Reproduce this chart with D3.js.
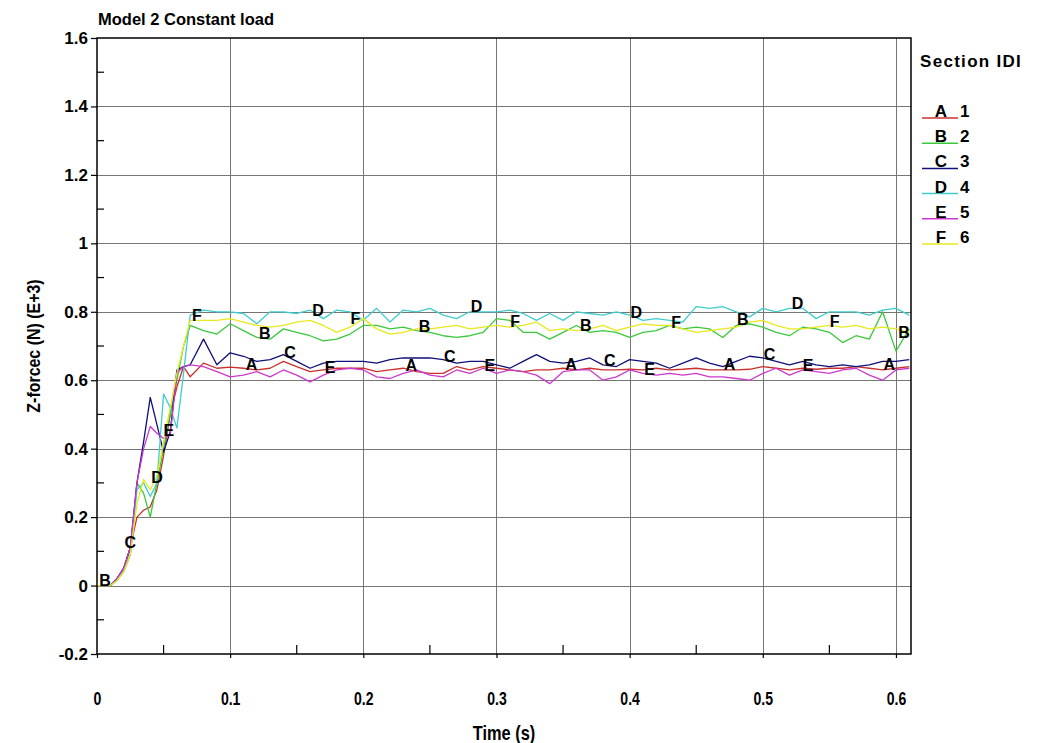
<!DOCTYPE html>
<html><head><meta charset="utf-8">
<script src="https://cdn.jsdelivr.net/npm/d3@7"></script>
<style>
body{margin:0;background:#fff;}
svg{display:block;}
text{font-family:"Liberation Sans",Arial,Helvetica,sans-serif;font-weight:bold;fill:#000;}
</style></head><body>
<svg id="chart" width="1042" height="743"></svg>
<script>
// ---------- DATA ----------
const time = [0,0.01,0.015,0.02,0.025,0.03,0.035,0.04,0.045,0.05,0.055,0.06,0.065,0.07,
  0.08,0.09,0.10,0.11,0.12,0.13,0.14,0.15,0.16,0.17,
  0.18,0.19,0.20,0.21,0.22,0.23,0.24,0.25,0.26,0.27,
  0.28,0.29,0.30,0.31,0.32,0.33,0.34,0.35,0.36,0.37,
  0.38,0.39,0.40,0.41,0.42,0.43,0.44,0.45,0.46,0.47,
  0.48,0.49,0.50,0.51,0.52,0.53,0.54,0.55,0.56,0.57,
  0.58,0.59,0.60,0.61];

const seriesA = [0,0,0.02,0.05,0.11,0.20,0.22,0.23,0.28,0.38,0.50,0.58,0.64,0.61,
  0.65,0.635,0.638,0.635,0.63,0.635,0.655,0.64,0.625,0.63,
  0.635,0.635,0.635,0.625,0.63,0.635,0.625,0.62,0.62,0.64,
  0.63,0.64,0.635,0.63,0.625,0.63,0.63,0.635,0.63,0.635,
  0.63,0.63,0.632,0.63,0.635,0.63,0.632,0.635,0.63,0.63,
  0.63,0.632,0.64,0.635,0.63,0.635,0.632,0.635,0.635,0.64,
  0.635,0.63,0.635,0.64];

const seriesB = [0,0,0.015,0.04,0.09,0.30,0.27,0.20,0.30,0.40,0.50,0.60,0.70,0.76,
  0.745,0.735,0.765,0.745,0.725,0.72,0.75,0.74,0.73,0.715,
  0.72,0.735,0.76,0.76,0.75,0.755,0.745,0.74,0.73,0.725,
  0.73,0.74,0.78,0.775,0.74,0.74,0.72,0.74,0.76,0.74,
  0.745,0.74,0.725,0.74,0.745,0.76,0.75,0.755,0.75,0.725,
  0.76,0.765,0.755,0.74,0.73,0.755,0.75,0.74,0.71,0.73,
  0.72,0.80,0.685,0.75];

const seriesC = [0,0,0.02,0.05,0.11,0.30,0.42,0.55,0.47,0.39,0.45,0.63,0.64,0.645,
  0.72,0.645,0.68,0.67,0.655,0.66,0.675,0.655,0.635,0.65,
  0.655,0.655,0.655,0.65,0.66,0.665,0.665,0.665,0.66,0.65,
  0.655,0.655,0.645,0.635,0.655,0.675,0.655,0.65,0.655,0.665,
  0.645,0.64,0.66,0.655,0.65,0.635,0.65,0.665,0.65,0.64,
  0.655,0.67,0.665,0.655,0.645,0.655,0.645,0.64,0.645,0.64,
  0.645,0.655,0.655,0.66];

const seriesD = [0,0,0.015,0.045,0.09,0.28,0.30,0.26,0.30,0.56,0.52,0.46,0.62,0.79,
  0.805,0.80,0.80,0.795,0.765,0.80,0.80,0.795,0.805,0.78,
  0.805,0.80,0.775,0.81,0.77,0.805,0.80,0.81,0.79,0.78,
  0.80,0.80,0.80,0.805,0.795,0.775,0.795,0.775,0.80,0.795,
  0.79,0.80,0.79,0.775,0.78,0.775,0.77,0.815,0.81,0.815,
  0.80,0.785,0.81,0.80,0.81,0.81,0.78,0.80,0.80,0.80,
  0.79,0.805,0.81,0.79];

const seriesE = [0,0,0.02,0.05,0.11,0.30,0.40,0.465,0.445,0.43,0.44,0.62,0.64,0.645,
  0.64,0.625,0.61,0.615,0.625,0.61,0.63,0.615,0.595,0.615,
  0.63,0.635,0.63,0.61,0.605,0.62,0.63,0.615,0.61,0.63,
  0.62,0.635,0.62,0.63,0.625,0.615,0.59,0.625,0.63,0.63,
  0.60,0.61,0.63,0.62,0.615,0.62,0.615,0.62,0.61,0.61,
  0.605,0.60,0.62,0.635,0.615,0.63,0.625,0.62,0.63,0.635,
  0.615,0.60,0.63,0.635];

const seriesF = [0,0,0.015,0.04,0.09,0.24,0.31,0.28,0.32,0.42,0.52,0.62,0.70,0.775,
  0.775,0.775,0.78,0.77,0.76,0.755,0.76,0.77,0.775,0.76,
  0.74,0.755,0.78,0.75,0.735,0.74,0.75,0.75,0.755,0.76,
  0.75,0.755,0.76,0.755,0.76,0.77,0.745,0.75,0.745,0.75,
  0.76,0.745,0.755,0.765,0.76,0.76,0.75,0.74,0.745,0.75,
  0.755,0.77,0.775,0.76,0.75,0.75,0.755,0.76,0.755,0.76,
  0.75,0.755,0.75,0.74];

// times at which the curve letters are written on each curve
const labelA = [0.116,0.236,0.356,0.475,0.595];
const labelB = [0.006,0.126,0.246,0.367,0.485,0.606];
const labelC = [0.025,0.145,0.265,0.385,0.505];
const labelD = [0.045,0.166,0.285,0.405,0.526];
const labelE = [0.054,0.175,0.295,0.415,0.534];
const labelF = [0.075,0.194,0.314,0.435,0.554];

const seriesLetters = ["A","B","C","D","E","F"];
const sectionIds = ["1","2","3","4","5","6"];
const colors = ["#c8302c","#3cc83c","#10107a","#40cccc","#cc38cc","#e8e820"];

const xTicks = [0,0.1,0.2,0.3,0.4,0.5,0.6];
const xMinorTicks = [0.05,0.15,0.25,0.35,0.45,0.55];
const yTicks = [-0.2,0,0.2,0.4,0.6,0.8,1,1.2,1.4,1.6];
const yMinorTicks = [-0.1,0.1,0.3,0.5,0.7,0.9,1.1,1.3,1.5];

const titleText = "Model 2 Constant load";
const xTitle = "Time (s)";
const yTitle = "Z-forcec (N) (E+3)";
const legendTitle = "Section IDI";

// ---------- CHART ----------
const allSeries = [seriesA,seriesB,seriesC,seriesD,seriesE,seriesF];
const allLabels = [labelA,labelB,labelC,labelD,labelE,labelF];

const L = 97, R = 911, T = 38, B = 654;
const svg = d3.select("#chart");
const x = d3.scaleLinear().domain([0, 0.6113]).range([L, R]);
const y = d3.scaleLinear().domain([-0.2, 1.6]).range([B, T]);
const fmt = d => String(+d.toFixed(1));

svg.append("rect").attr("width",1042).attr("height",743).attr("fill","#fff");

// grid
const grid = svg.append("g").attr("stroke","#767676").attr("stroke-width",1);
grid.selectAll("line.vx").data(xTicks.filter(d => d > 0)).join("line")
  .attr("x1", d => Math.round(x(d))+0.5).attr("x2", d => Math.round(x(d))+0.5)
  .attr("y1", T).attr("y2", B);
grid.selectAll("line.hy").data(yTicks.filter(d => d > -0.2 && d < 1.6)).join("line")
  .attr("y1", d => Math.round(y(d))+0.5).attr("y2", d => Math.round(y(d))+0.5)
  .attr("x1", L).attr("x2", R);

// axes
const xAxis = svg.append("g").attr("transform",`translate(0,${B})`)
  .call(d3.axisBottom(x).tickValues(xTicks).tickSize(4).tickSizeOuter(0).tickPadding(34).tickFormat(fmt));
xAxis.select(".domain").remove();
xAxis.selectAll("text").style("font-size","19px").style("font-weight","bold")
  .attr("fill","#000").attr("transform","scale(0.74,1)");
xAxis.selectAll("line").attr("stroke","#000").attr("stroke-width",1.2);

const yAxis = svg.append("g").attr("transform",`translate(${L},0)`)
  .call(d3.axisLeft(y).tickValues(yTicks).tickSize(6).tickSizeOuter(0).tickPadding(3).tickFormat(fmt));
yAxis.select(".domain").remove();
yAxis.selectAll("text").style("font-size","17px").style("font-weight","bold").attr("fill","#000");
yAxis.selectAll("line").attr("stroke","#000").attr("stroke-width",1.2);

// minor ticks (inside)
svg.append("g").attr("stroke","#000").attr("stroke-width",1.2)
  .selectAll("line").data(xMinorTicks).join("line")
  .attr("x1", d => x(d)).attr("x2", d => x(d)).attr("y1", B).attr("y2", B-9);
svg.append("g").attr("stroke","#000").attr("stroke-width",1.2)
  .selectAll("line").data(yMinorTicks).join("line")
  .attr("y1", d => y(d)).attr("y2", d => y(d)).attr("x1", L).attr("x2", L+7);

// clip
svg.append("clipPath").attr("id","plotclip").append("rect")
  .attr("x",L).attr("y",T).attr("width",R-L).attr("height",B-T);

// lines
const line = d3.line().x((d,i) => x(time[i])).y(d => y(d));
const lines = svg.append("g").attr("clip-path","url(#plotclip)");
allSeries.forEach((s,k) => {
  lines.append("path").datum(s).attr("d", line)
    .attr("fill","none").attr("stroke", colors[k]).attr("stroke-width",1.3)
    .attr("stroke-linejoin","round");
});

// frame
svg.append("rect").attr("x",L).attr("y",T).attr("width",R-L).attr("height",B-T)
  .attr("fill","none").attr("stroke","#000").attr("stroke-width",1.5);

// curve letters
function valueAt(s, t) {
  const i = Math.min(Math.max(d3.bisectRight(time, t), 1), time.length-1);
  const t0 = time[i-1], t1 = time[i];
  const f = (t - t0) / (t1 - t0);
  return s[i-1] + (s[i]-s[i-1]) * f;
}
const lab = svg.append("g");
allLabels.forEach((arr,k) => {
  arr.forEach(t => {
    lab.append("text").attr("x", x(t)).attr("y", y(valueAt(allSeries[k], t)) - 5)
      .attr("text-anchor","middle").attr("dominant-baseline","central")
      .style("font-size","16px").text(seriesLetters[k]);
  });
});

// titles
svg.append("text").attr("x", 98).attr("y", 25).style("font-size","16.5px").text(titleText);
svg.append("text").attr("transform", `translate(${(L+R)/2},740) scale(0.82,1)`)
  .attr("text-anchor","middle").style("font-size","20px").text(xTitle);
svg.append("text")
  .attr("transform", `translate(40,${(T+B)/2}) rotate(-90) scale(0.84,1)`)
  .attr("text-anchor","middle").style("font-size","19px").text(yTitle);

// legend
svg.append("text").attr("x", 920).attr("y", 67).style("font-size","17px")
  .style("letter-spacing","1.3px").text(legendTitle);
const lg = svg.append("g");
seriesLetters.forEach((s,k) => {
  const by = 117 + k*25.2;
  lg.append("line").attr("x1",922).attr("x2",958).attr("y1",by+1).attr("y2",by+1)
    .attr("stroke",colors[k]).attr("stroke-width",1.5);
  lg.append("text").attr("x",941).attr("y",by).attr("text-anchor","middle")
    .style("font-size","17px").text(s);
  lg.append("text").attr("x",960).attr("y",by).style("font-size","17px").text(sectionIds[k]);
});
</script>
</body></html>
